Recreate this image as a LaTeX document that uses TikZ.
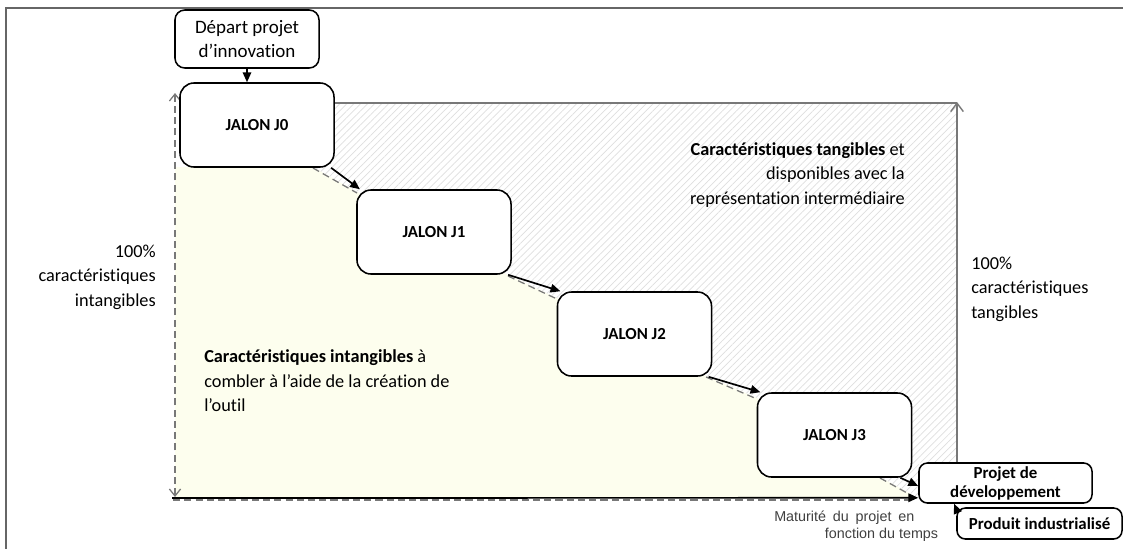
\documentclass[tikz,border=0pt]{standalone}
\usepackage{fontspec}
\setmainfont{Carlito}[Ligatures=NoCommon]
\newfontfamily\arialfont{Liberation Sans}
\usetikzlibrary{arrows.meta, patterns.meta, calc}

\definecolor{jaune}{RGB}{253,254,238}
\definecolor{trait}{RGB}{120,120,120}
\definecolor{hachure}{RGB}{222,222,222}

\tikzset{
  boite/.style={draw, line width=1.1pt, fill=white, rounded corners=7pt, inner sep=1pt, align=center},
  jalon/.style={boite, rounded corners=10pt, minimum width=3.85cm, minimum height=2.1cm,
    font=\fontsize{12}{14}\selectfont\bfseries},
  fleche/.style={line width=1.2pt, -{Triangle[length=7pt,width=6pt]}},
  tirets/.style={trait, line width=0.9pt, dash pattern=on 5pt off 3pt},
  gris/.style={trait, line width=1pt},
  texte/.style={inner sep=0pt, font=\fontsize{13}{17.4}\selectfont},
}

\begin{document}
\begin{tikzpicture}[x=0.025cm, y=-0.025cm]
  \useasboundingbox (0,0) rectangle (1123,548);
  % cadre
  \draw[gray!80!black, line width=1.2pt] (6,550) -- (6,8) -- (1125,8);

  % zones
  \fill[jaune] (175,167) -- (313,167) -- (357,192) -- (508,275) -- (557,298) -- (706,376)
    -- (757,398) -- (880,477) -- (918,498) -- (175,498) -- cycle;
  \fill[pattern={Lines[angle=45,distance=3.5pt,line width=0.5pt]}, pattern color=hachure]
    (334,103) -- (957,103) -- (957,463) -- (919,463) -- (919,498) -- (880,477) -- (757,398)
    -- (706,376) -- (557,298) -- (508,275) -- (357,192) -- (313,167) -- cycle;

  % limites
  \draw[tirets] (313,168) -- (357,193);
  \draw[tirets] (508,276) -- (557,299);
  \draw[tirets] (706,377) -- (757,399);
  \draw[tirets] (880,478) -- (918,499);
  \draw[tirets] (173,500) -- (915,500);
  \draw[tirets, {Straight Barb[length=5pt,width=8pt]}-{Straight Barb[length=5pt,width=8pt]}] (175,497) -- (175,93);
  \draw[gris] (334,103) -- (957,103);
  \draw[gris, -{Straight Barb[length=6pt,width=9pt]}] (957,463) -- (957,102);

  % etapes
  \node[boite, minimum width=3.6cm, minimum height=1.45cm, font=\fontsize{13.5}{17}\selectfont]
    (dep) at (247,39) {Départ projet\\d’innovation};
  \foreach \i/\x/\y in {0/257/125, 1/434/232, 2/634.5/334, 3/834.5/435}
    \node[jalon] (J\i) at (\x,\y) {JALON J\i};
  \node[boite, rounded corners=6pt, minimum width=4.325cm, minimum height=1cm,
    font=\fontsize{12}{13.5}\selectfont\bfseries] (proj) at (1005.5,483) {Projet de\\développement};
  \node[boite, rounded corners=6pt, minimum width=4.125cm, minimum height=0.775cm,
    font=\fontsize{12}{14}\selectfont\bfseries] (prod) at (1039.5,523.5) {Produit industrialisé};

  % fleches
  \draw[fleche] (dep.south) -- (dep.south |- J0.north);
  \foreach \a/\b in {J0/J1, J1/J2, J2/J3}
    \draw[fleche] (\a.-30) -- (\b.150);
  \draw[fleche] (J3.-33) -- ($(proj.west)+(0,3)$);
  \coordinate (origine) at (172,498);
  \draw[fleche] (origine) -- ($(proj.south west)+(0,-6)$);
  \draw[fleche] (prod.170) -- (proj.202);

  % textes
  \node[texte, align=right, anchor=east] (gauche) at (156,277)
    {100\%\\caractéristiques\\intangibles};
  \node[texte, align=left, anchor=west] (droite) at (971,289)
    {100\%\\caractéristiques\\tangibles};
  \node[texte, align=right, anchor=east] (tang) at (905,175)
    {\textbf{Caractéristiques tangibles} et\\disponibles avec la\\représentation intermédiaire};
  \node[texte, align=left, anchor=west] (intang) at (204,381)
    {\textbf{Caractéristiques intangibles} à\\combler à l’aide de la création de\\l’outil};
  \node[inner sep=0pt, align=left, anchor=west, text=black!75,
    font=\arialfont\fontsize{10.2}{12.5}\selectfont] (matur) at (774,526)
    {Maturité\hspace{2pt} du\hspace{2pt} projet\hspace{2pt} en\\\hspace*{36pt}fonction du temps};
\end{tikzpicture}
\end{document}
